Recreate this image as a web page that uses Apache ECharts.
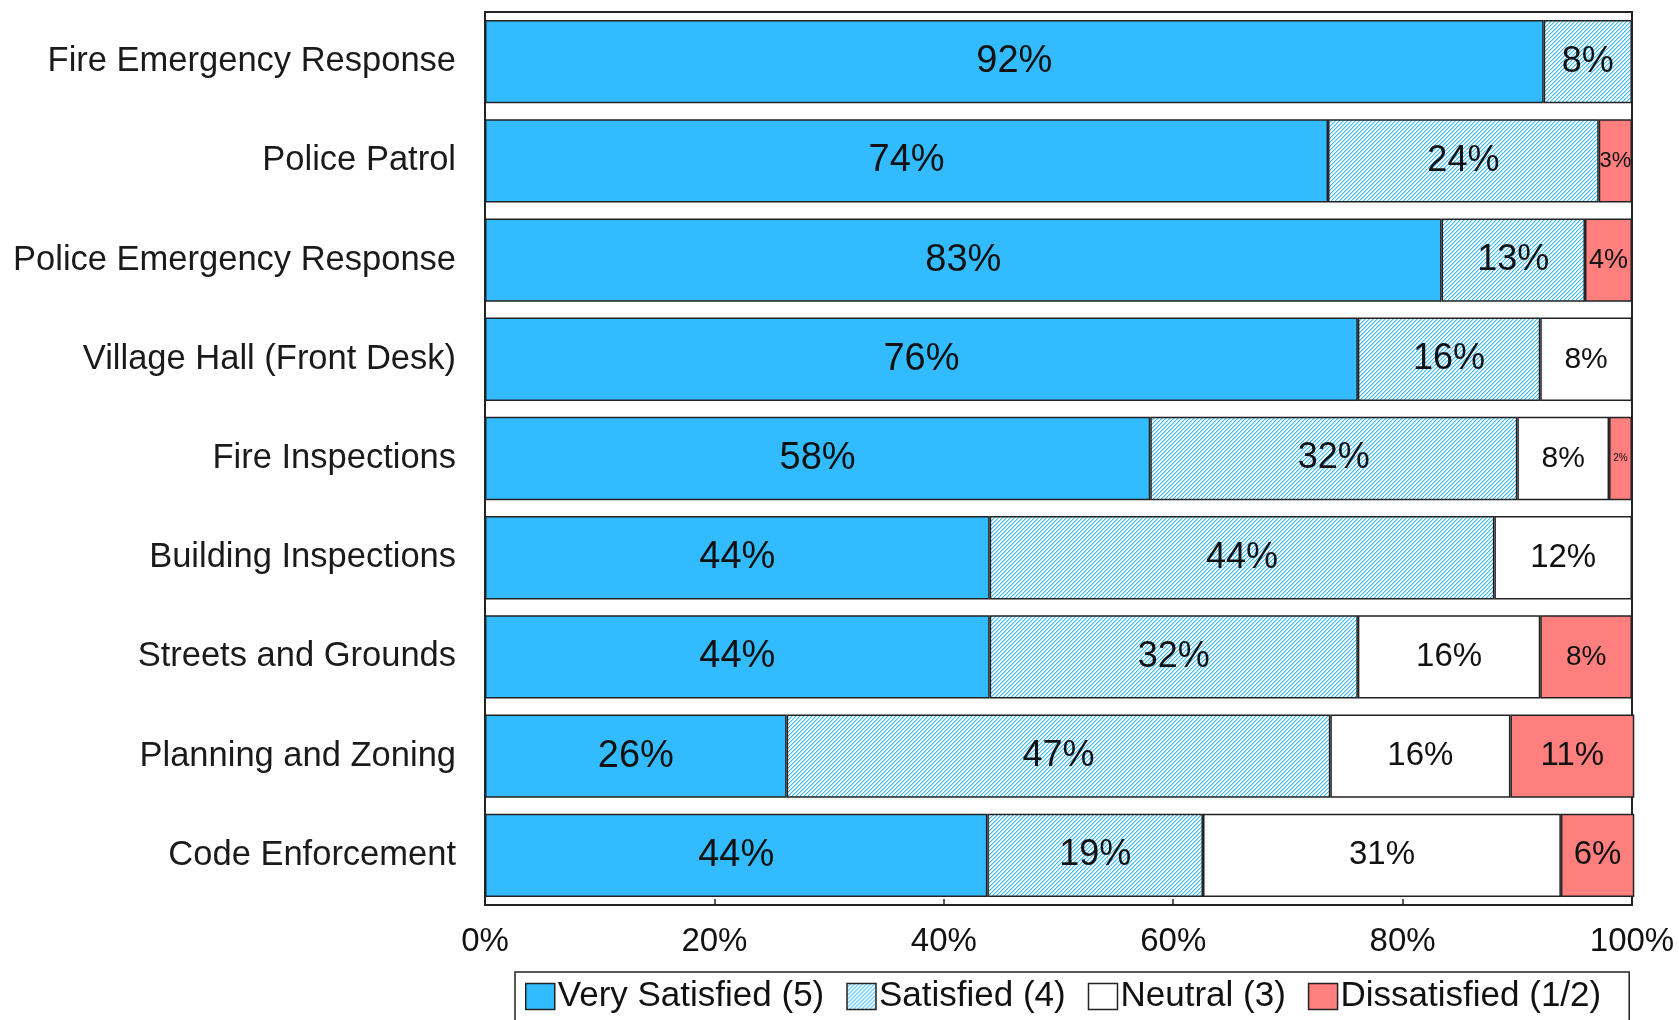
<!DOCTYPE html>
<html>
<head>
<meta charset="utf-8">
<script src="https://cdn.jsdelivr.net/npm/echarts@6/dist/echarts.min.js"></script>
<style>
html, body { margin: 0; padding: 0; background: #fff; }
#chart { width: 1679px; height: 1020px; }
</style>
</head>
<body>
<div id="chart"></div>
<script>
// ---- Data ----
const categories = [
  'Fire Emergency Response',
  'Police Patrol',
  'Police Emergency Response',
  'Village Hall (Front Desk)',
  'Fire Inspections',
  'Building Inspections',
  'Streets and Grounds',
  'Planning and Zoning',
  'Code Enforcement'
];
const verySatisfied = [92.3, 73.5, 83.4, 76.1, 58.0, 44.0, 44.0, 26.3, 43.8];
const satisfied     = [7.7, 23.6, 12.5, 15.9, 32.0, 44.0, 32.1, 47.4, 18.8];
const neutral       = [null, null, null, 8.0, 8.0, 12.0, 15.9, 15.7, 31.2];
const dissatisfied  = [null, 2.9, 4.1, null, 2.0, null, 8.0, 10.8, 6.4];
const seriesNames = ['Very Satisfied (5)', 'Satisfied (4)', 'Neutral (3)', 'Dissatisfied (1/2)'];
const xTicks = [0, 20, 40, 60, 80, 100];

// ---- Styles ----
const labelSizes = [
  [38, 38, 38, 38, 38, 38, 38, 38, 38],
  [36, 36, 36, 36, 36, 36, 36, 36, 36],
  [30, 30, 30, 30, 30, 33, 33, 33, 33],
  [22, 22, 27, 27, 10, 28, 28, 33, 33]
];

function hatch() {
  const c = document.createElement('canvas');
  c.width = 4; c.height = 4;
  const ctx = c.getContext('2d');
  ctx.fillStyle = '#ffffff';
  ctx.fillRect(0, 0, 4, 4);
  for (let y = 0; y < 4; y++) {
    ctx.fillStyle = '#3dbfff';
    ctx.fillRect((3 - y + 4) % 4, y, 1, 1);
    ctx.fillStyle = '#a6e1ff';
    ctx.fillRect((4 - y + 4) % 4, y, 1, 1);
  }
  return c;
}

const fills = ['#33bbff', { image: hatch(), repeat: 'repeat' }, '#ffffff', '#ff7f7f'];
const seriesData = [verySatisfied, satisfied, neutral, dissatisfied];

const chart = echarts.init(document.getElementById('chart'), null, { renderer: 'canvas' });

const series = seriesData.map((arr, si) => ({
  name: seriesNames[si],
  type: 'bar',
  stack: 'total',
  barCategoryGap: '16%',
  clip: false,
  itemStyle: { color: fills[si], borderColor: '#222', borderWidth: 1.5 },
  label: {
    show: true,
    position: 'inside',
    color: '#111',
    fontFamily: 'Liberation Sans, Arial, sans-serif',
    formatter: p => Math.round(p.value) + '%'
  },
  data: arr.map((v, i) => v == null ? null : { value: v, label: { fontSize: labelSizes[si][i] } })
}));

chart.setOption({
  animation: false,
  backgroundColor: '#fff',
  grid: {
    left: 485, right: 47, top: 12, bottom: 115,
    show: true, borderColor: '#222', borderWidth: 2, backgroundColor: 'transparent'
  },
  legend: {
    data: seriesNames,
    icon: 'rect',
    left: 515, top: 972,
    orient: 'horizontal',
    itemWidth: 29, itemHeight: 26, itemGap: 22,
    padding: [7, 28, 40, 10],
    borderColor: '#222', borderWidth: 1.5,
    textStyle: { fontFamily: 'Liberation Sans, Arial, sans-serif', fontSize: 35, color: '#111', padding: [0, 0, 0, -2] },
    itemStyle: { borderColor: '#222', borderWidth: 1.5 }
  },
  xAxis: {
    type: 'value', min: xTicks[0], max: xTicks[xTicks.length - 1], interval: 20,
    axisLine: { show: true, lineStyle: { color: '#222', width: 2 } },
    axisTick: { show: true, inside: true, length: 6, lineStyle: { color: '#222', width: 1.5 } },
    splitLine: { show: false },
    axisLabel: { formatter: '{value}%', fontSize: 33, color: '#111', margin: 20, fontFamily: 'Liberation Sans, Arial, sans-serif' }
  },
  yAxis: {
    type: 'category', data: categories, inverse: true,
    axisLine: { show: true, lineStyle: { color: '#222', width: 2 } },
    axisTick: { show: false },
    axisLabel: { fontSize: 34.5, color: '#1a1a1a', margin: 29, fontFamily: 'Liberation Sans, Arial, sans-serif' }
  },
  series
});
</script>
</body>
</html>
